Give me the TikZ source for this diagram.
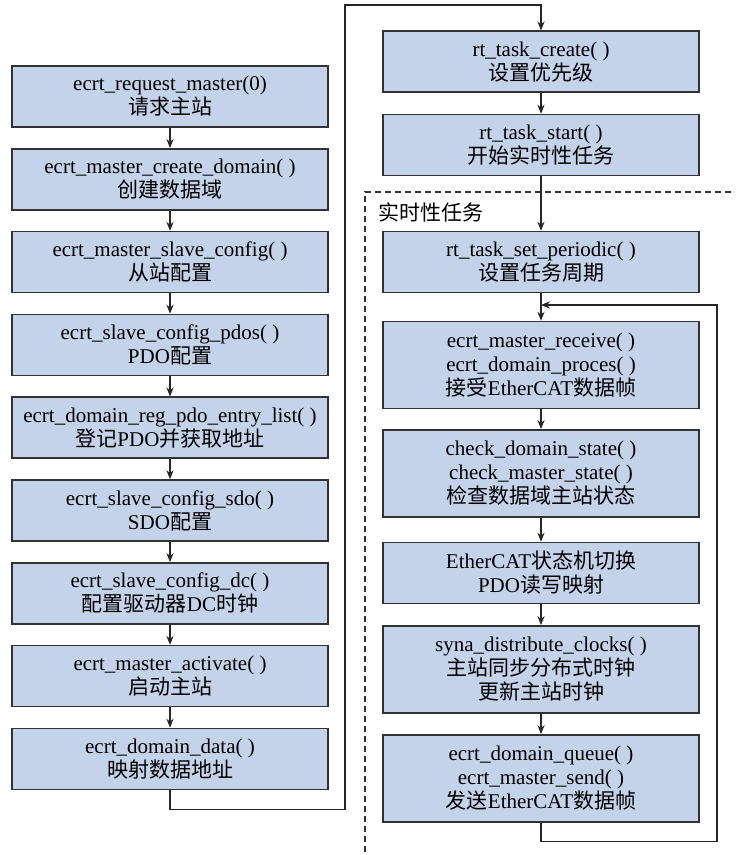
\documentclass[tikz,border=0pt]{standalone}
\usepackage{fontspec}
\setmainfont{Liberation Serif}
\newfontfamily\cjk{Noto Sans CJK SC}
\usepackage{tikz}
\usetikzlibrary{arrows.meta}
\definecolor{boxfill}{RGB}{197,211,234}
\definecolor{boxline}{RGB}{50,50,50}

\begin{document}
\begin{tikzpicture}[x=0.5pt, y=-0.5pt,
    stepbox/.style={draw=boxline, line width=0.75pt, fill=boxfill, minimum width=158pt,
        inner sep=0pt, align=center, font=\fontsize{10.5}{12}\selectfont},
    twoline/.style={stepbox, minimum height=30.5pt},
    threeline/.style={stepbox, minimum height=43.5pt},
    link/.style={draw=black!85, line width=0.6pt, -{Stealth[length=4.5pt, width=3.6pt]}}]
    \useasboundingbox (0,0) rectangle (735,855);

    % Left column: setup of the master
    \node[twoline] (req) at (170, 96.5) {ecrt\_request\_master(0)\\{\cjk 请求主站}};
    \node[twoline] (dom) at (170, 179.3) {ecrt\_master\_create\_domain( )\\{\cjk 创建数据域}};
    \node[twoline] (slv) at (170, 262.1) {ecrt\_master\_slave\_config( )\\{\cjk 从站配置}};
    \node[twoline] (pdo) at (170, 344.9) {ecrt\_slave\_config\_pdos( )\\PDO{\cjk 配置}};
    \node[twoline] (reg) at (170, 427.7) {ecrt\_domain\_reg\_pdo\_entry\_list( )\\{\cjk 登记}PDO{\cjk 并获取地址}};
    \node[twoline] (sdo) at (170, 510.5) {ecrt\_slave\_config\_sdo( )\\SDO{\cjk 配置}};
    \node[twoline] (dc)  at (170, 593.3) {ecrt\_slave\_config\_dc( )\\{\cjk 配置驱动器}DC{\cjk 时钟}};
    \node[twoline] (act) at (170, 676.1) {ecrt\_master\_activate( )\\{\cjk 启动主站}};
    \node[twoline] (dat) at (170, 758.9) {ecrt\_domain\_data( )\\{\cjk 映射数据地址}};

    % Right column: real-time task
    \node[twoline] (tcr) at (541, 61.7) {rt\_task\_create( )\\{\cjk 设置优先级}};
    \node[twoline] (tst) at (541, 145) {rt\_task\_start( )\\{\cjk 开始实时性任务}};
    \node[twoline] (per) at (541, 262) {rt\_task\_set\_periodic( )\\{\cjk 设置任务周期}};
    \node[threeline] (rcv) at (541, 365) {ecrt\_master\_receive( )\\ecrt\_domain\_proces( )\\{\cjk 接受}EtherCAT{\cjk 数据帧}};
    \node[threeline] (chk) at (541, 473.3) {check\_domain\_state( )\\check\_master\_state( )\\{\cjk 检查数据域主站状态}};
    \node[twoline] (ecs) at (541, 573) {EtherCAT{\cjk 状态机切换}\\PDO{\cjk 读写映射}};
    \node[threeline] (syn) at (541, 669.3) {syna\_distribute\_clocks( )\\{\cjk 主站同步分布式时钟}\\{\cjk 更新主站时钟}};
    \node[threeline] (snd) at (541, 778.3) {ecrt\_domain\_queue( )\\ecrt\_master\_send( )\\{\cjk 发送}EtherCAT{\cjk 数据帧}};

    % Real-time task frame
    \draw[black!80, line width=0.6pt, dash pattern=on 3pt off 2pt] (365,852) -- (365,192) -- (735,192);
    \node[anchor=west, inner sep=0pt, font=\fontsize{10.5}{12}\selectfont] (rtlabel) at (378,212) {\cjk 实时性任务};

    % Arrows
    \foreach \a/\b in {req/dom, dom/slv, slv/pdo, pdo/reg, reg/sdo, sdo/dc, dc/act, act/dat,
                       tcr/tst, tst/per, per/rcv, rcv/chk, chk/ecs, ecs/syn, syn/snd}
        \draw[link] (\a) -- (\b);

    % From the left column over to the right column
    \coordinate (over) at (345,5);
    \draw[link] (dat.south) -- ++(0,19) -| (over) -| (tcr.north);

    % Loop back
    \coordinate (loopturn) at (717,305);
    \coordinate (loopin) at (541,305);
    \draw[link] (snd.south) -- ++(0,19) -| (loopturn) -- (loopin);
\end{tikzpicture}
\end{document}
